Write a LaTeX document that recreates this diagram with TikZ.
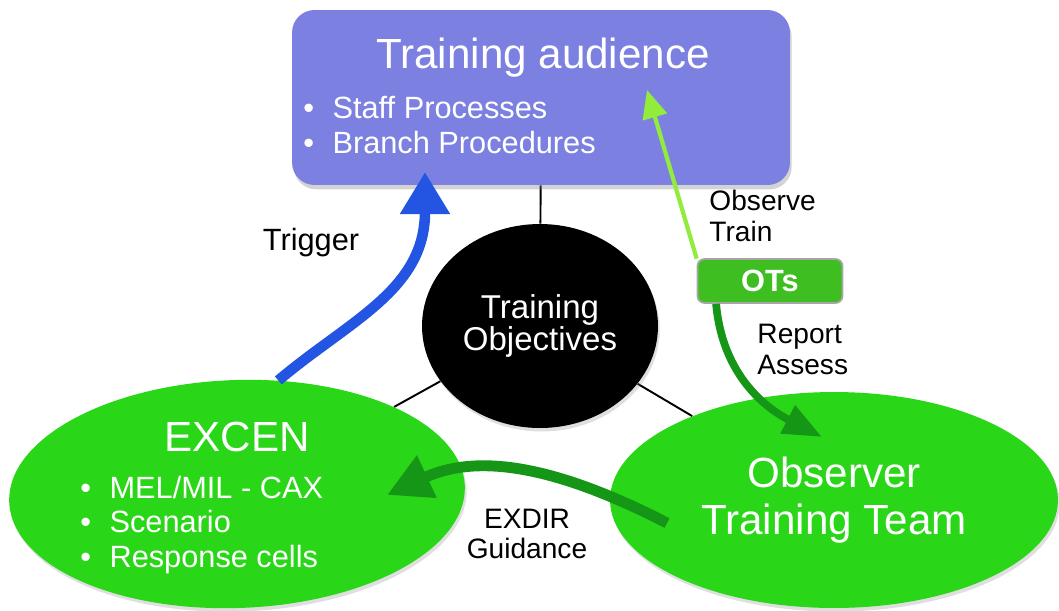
\documentclass[tikz,border=0pt]{standalone}
\usepackage{fontspec}
\setmainfont{Liberation Sans}
\usetikzlibrary{shapes.geometric,arrows.meta,positioning,shadows,backgrounds}

\definecolor{audienceblue}{RGB}{124,128,224}
\definecolor{cellgreen}{RGB}{42,214,24}
\definecolor{otgreen}{RGB}{62,190,32}
\definecolor{darkgreen}{RGB}{22,150,22}
\definecolor{lightgreen}{RGB}{145,236,60}
\definecolor{triggerblue}{RGB}{35,85,226}

\newcommand{\bulitem}{\textbullet\hspace{0.6em}}

\begin{document}
\begin{tikzpicture}[
    x=0.02cm, y=-0.02cm,
    % Styles
    audience/.style={
        rectangle,
        rounded corners=0.45cm,
        fill=audienceblue,
        minimum width=9.96cm,
        minimum height=3.5cm,
        drop shadow={opacity=0.35, shadow xshift=1pt, shadow yshift=-2.5pt}
    },
    cell/.style={
        ellipse,
        fill=cellgreen,
        inner sep=0pt,
        drop shadow={opacity=0.25, shadow xshift=1pt, shadow yshift=-2pt}
    },
    objective/.style={
        ellipse,
        fill=black,
        minimum width=4.72cm,
        minimum height=4.08cm,
        text=white,
        align=center,
        font=\fontsize{18.8}{18}\selectfont,
        drop shadow={opacity=0.25, shadow xshift=1pt, shadow yshift=-2pt}
    },
    otbox/.style={
        rectangle,
        rounded corners=4pt,
        fill=otgreen,
        draw=gray!70,
        line width=1pt,
        minimum width=2.9cm,
        minimum height=0.88cm,
        text=white,
        font=\bfseries\fontsize{17.5}{20}\selectfont
    },
    title/.style={text=white, align=center, inner sep=0pt, font=\fontsize{24}{27}\selectfont},
    bullets/.style={text=white, align=left, inner sep=0pt, anchor=west},
    lbl/.style={text=black, align=left, inner sep=0pt, font=\fontsize{16}{17.5}\selectfont},
    % Line Styles
    link/.style={draw=black, line width=1.1pt},
    trigger/.style={draw=triggerblue, line width=6pt, -{Triangle[width=27pt,length=24pt]}},
    observe/.style={draw=lightgreen, line width=2.4pt, -{Triangle[width=14pt,length=16pt]}},
    report/.style={draw=darkgreen, line width=4.4pt, -{Triangle[width=17pt,length=22pt]}},
    guide/.style={draw=darkgreen, line width=6.2pt, -{Triangle[width=25pt,length=25pt]}}
]
\useasboundingbox (0,0) rectangle (1059,610);

% --- Nodes ---

% Top: Training audience
\node[audience] (audience) at (541,97.5) {};
\node[title] (audienceTitle) at (543,58) {Training audience};
\node[bullets, font=\fontsize{17.5}{20.4}\selectfont] (audienceList) at (303,125)
    {\bulitem Staff Processes\\\bulitem Branch Procedures};

% Center: Training Objectives
\node[objective] (objectives) at (540,326) {Training\\Objectives};

% Left: EXCEN
\node[cell, rotate=2, minimum width=9.12cm, minimum height=4.56cm] (excen) at (237,494) {};
\node[title] (excenTitle) at (237,437) {EXCEN};
\node[bullets, font=\fontsize{17.5}{19.8}\selectfont] (excenList) at (80,525)
    {\bulitem MEL/MIL - CAX\\\bulitem Scenario\\\bulitem Response cells};

% Right: Observer Training Team
\node[cell, title, minimum width=8.96cm, minimum height=4.32cm] (ott) at (834,500) {Observer\\Training Team};

% OTs
\node[otbox] (ots) at (770,281) {OTs};

% Labels
\node[lbl, font=\fontsize{17.5}{20}\selectfont] (triggerLbl) at (311,243) {Trigger};
\node[lbl, above right=0.32cm and 0.25cm of ots.north west] (observeLbl) {Observe\\Train};
\node[lbl, below right=0.4cm and 1.21cm of ots.south west] (reportLbl) {Report\\Assess};
\node[lbl, align=center] (exdirLbl) at (527,534) {EXDIR\\Guidance};

% Free ends
\coordinate (triggerTip) at (425,172);
\coordinate (observeTip) at (647,90);
\coordinate (reportTip) at (822,437);
\coordinate (guideStart) at (667,523);
\coordinate (guideTip) at (387,495);

% --- Relationships ---
\begin{scope}[on background layer]
\draw[link] (audience) -- (objectives);
\draw[link] (objectives) -- (excen);
\draw[link] (objectives) -- (ott);
\end{scope}

\draw[trigger] (excen.68) .. controls (350,320) and (425,290) .. (triggerTip);
\draw[observe] (ots.163) -- (observeTip);
\draw[report] (ots.-157) .. controls (722,370) and (760,405) .. (reportTip);
\draw[guide] (guideStart) .. controls (560,468) and (480,452) .. (guideTip);

\end{tikzpicture}
\end{document}
